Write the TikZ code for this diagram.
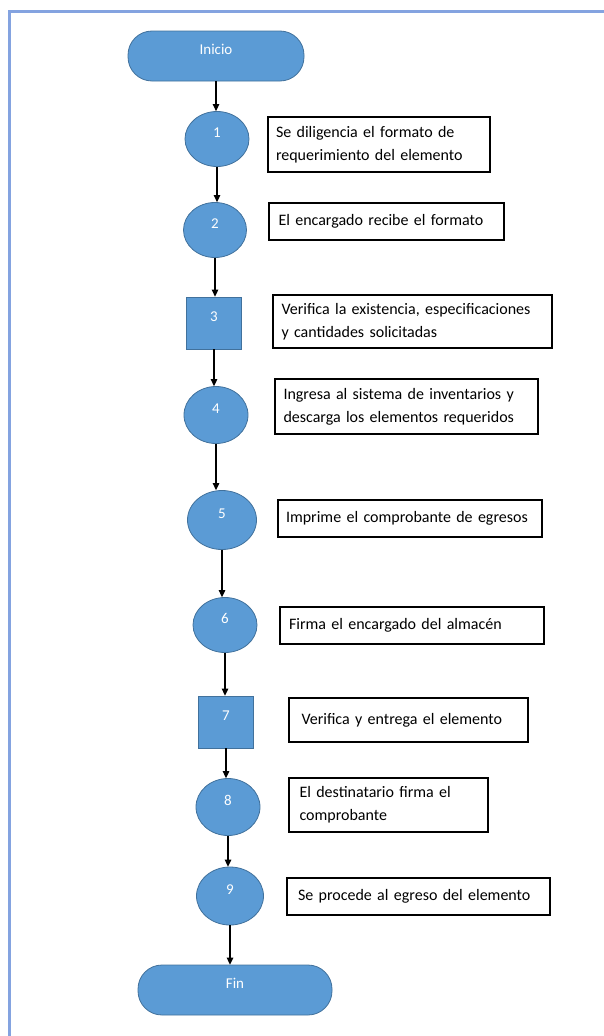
\documentclass[tikz,border=0pt]{standalone}
\usepackage{fontspec}
\setmainfont{Carlito}
\usepackage{tikz}
\usetikzlibrary{shapes.geometric,arrows.meta}
\definecolor{azulforma}{RGB}{91,155,213}
\definecolor{bordeforma}{RGB}{65,113,156}
\definecolor{marco}{RGB}{132,163,224}

\begin{document}
\begin{tikzpicture}[x=1pt,y=-1pt,
  every node/.style={font=\fontsize{16}{23}\selectfont},
  forma/.style={draw=bordeforma,fill=azulforma,text=white,line width=0.8pt,inner sep=0pt,
    font=\fontsize{15}{18}\selectfont,text height=10pt,text depth=12.5pt},
  terminal/.style={forma,rounded corners=24pt,minimum width=#1,minimum height=50pt},
  paso/.style 2 args={forma,ellipse,minimum width=#1,minimum height=#2},
  proceso/.style={forma,rectangle,minimum width=55pt,minimum height=52pt},
  nota/.style n args={3}{draw=black,line width=1.3pt,align=left,
    minimum width=#1,minimum height=#2,text width=#3},
  flecha/.style={-{Triangle[length=7pt,width=6.5pt]},line width=1.3pt}]
  \useasboundingbox (0,0) rectangle (604,1036);
  % marco
  \draw[marco,line width=3pt] (9,1036) -- (9,11) -- (604,11);
  % formas
  \node[terminal=176pt] (inicio) at (216,56) {Inicio};
  \node[paso={64pt}{55pt}] (c1) at (217,139) {1};
  \node[paso={63pt}{55pt}] (c2) at (215,230) {2};
  \node[proceso] (s3) at (214,323) {3};
  \node[paso={64pt}{57pt}] (c4) at (216,415) {4};
  \node[paso={69pt}{59pt}] (c5) at (222,520) {5};
  \node[paso={64pt}{55pt}] (c6) at (225,625) {6};
  \node[proceso] (s7) at (226,722) {7};
  \node[paso={64pt}{57pt}] (c8) at (228,807) {8};
  \node[paso={67pt}{58pt}] (c9) at (230,896) {9};
  \node[terminal=194pt] (fin) at (235,990) {Fin};
  % notas
  \node[nota={222pt}{55pt}{206pt}] (n1) at (379,144.5)
    {Se diligencia el formato de\\requerimiento del elemento};
  \node[nota={235pt}{37pt}{216pt}] (n2) at (386.5,221.5)
    {El encargado recibe el formato};
  \node[nota={279pt}{53pt}{262pt}] (n3) at (412.5,321.5)
    {Verifica la existencia, especificaciones\\y cantidades solicitadas};
  \node[nota={263pt}{55pt}{246pt}] (n4) at (406.5,406.5)
    {Ingresa al sistema de inventarios y\\descarga los elementos requeridos};
  \node[nota={264pt}{37pt}{248pt}] (n5) at (410,518.5)
    {Imprime el comprobante de egresos};
  \node[nota={264pt}{37pt}{246pt}] (n6) at (412,625.5)
    {Firma el encargado del almacén};
  \node[nota={239pt}{44pt}{214pt}] (n7) at (408.5,720)
    {Verifica y entrega el elemento};
  \node[nota={199pt}{54pt}{178pt}] (n8) at (388.5,805)
    {El destinatario firma el\\comprobante};
  \node[nota={263pt}{37pt}{241pt}] (n9) at (418.5,896.5)
    {Se procede al egreso del elemento};
  % flechas
  \foreach \a/\b in {inicio/c1,c1/c2,c2/s3,s3/c4,c4/c5,c5/c6,c6/s7,s7/c8,c8/c9,c9/fin}
    \draw[flecha] (\a.south) -- (\a.south |- \b.north);
\end{tikzpicture}
\end{document}
